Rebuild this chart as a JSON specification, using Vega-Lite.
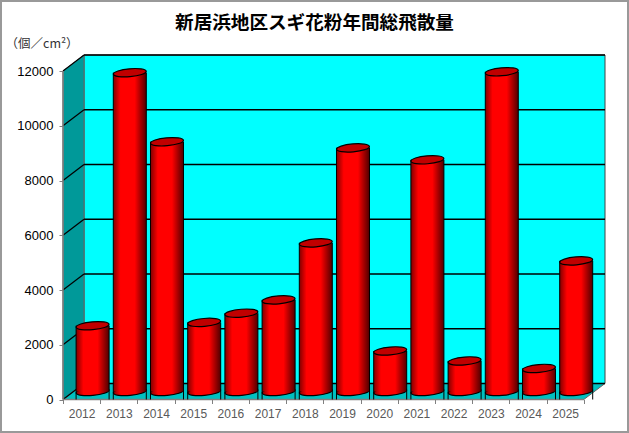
{"$schema":"https://vega.github.io/schema/vega-lite/v6.json","width":627,"height":431,"padding":1,"autosize":{"type":"none"},"background":"white","view":{"stroke":"#999999","strokeWidth":2,"fill":"white"},
"title":{"text":"新居浜地区スギ花粉年間総飛散量","font":"Noto Sans CJK JP","fontSize":18.6,"fontWeight":"bold","color":"#000000","anchor":"middle","offset":-32},
"datasets":{
"back":[{"x0":2012.065,"x1":2026.07,"y0":585,"y1":12585}],
"side":[{"x":2011.5,"lo":0,"hi":12000},{"x":2012.065,"lo":585,"hi":12585}],
"floor":[{"y":0,"xa":2011.5,"xb":2025.5},{"y":585,"xa":2012.065,"xb":2026.07}],
"grid":[{"v":0,"vb":585,"xf":2011.5,"xb":2012.065,"xe":2026.07},{"v":2000,"vb":2585,"xf":2011.5,"xb":2012.065,"xe":2026.07},{"v":4000,"vb":4585,"xf":2011.5,"xb":2012.065,"xe":2026.07},{"v":6000,"vb":6585,"xf":2011.5,"xb":2012.065,"xe":2026.07},{"v":8000,"vb":8585,"xf":2011.5,"xb":2012.065,"xe":2026.07},{"v":10000,"vb":10585,"xf":2011.5,"xb":2012.065,"xe":2026.07},{"v":12000,"vb":12585,"xf":2011.5,"xb":2012.065,"xe":2026.07}],
"pollen":[{"year":2012,"value":2402},{"year":2013,"value":11645},{"year":2014,"value":9123},{"year":2015,"value":2523},{"year":2016,"value":2860},{"year":2017,"value":3346},{"year":2018,"value":5430},{"year":2019,"value":8900},{"year":2020,"value":1480},{"year":2021,"value":8464},{"year":2022,"value":1115},{"year":2023,"value":11680},{"year":2024,"value":841},{"year":2025,"value":4772}]
},
"layer":[
{"data":{"name":"back"},"mark":{"type":"rect","fill":"#00FFFF","stroke":"#444444","strokeWidth":1},"encoding":{
"x":{"field":"x0","type":"quantitative","scale":{"domain":[2011.5,2026.07],"range":[62,604],"nice":false,"zero":false,"padding":0},
"axis":{"orient":"bottom","offset":-32.5,"values":[2011.5,2012.5,2013.5,2014.5,2015.5,2016.5,2017.5,2018.5,2019.5,2020.5,2021.5,2022.5,2023.5,2024.5,2025.5],"labelExpr":"datum.value<2025?format(datum.value+0.5,'d'):''","labelOffset":18.6,"labelOverlap":false,"labelFlush":false,"labelFont":"Liberation Sans","labelFontSize":12,"labelColor":"#595959","labelAngle":0,"labelPadding":5,"tickColor":"#808080","tickSize":4,"grid":false,"domain":false,"title":null}},
"x2":{"field":"x1"},
"y":{"field":"y0","type":"quantitative","scale":{"domain":[0,12585],"range":[398.5,54],"nice":false,"zero":true,"padding":0},
"axis":{"orient":"left","offset":-62,"values":[0,2000,4000,6000,8000,10000,12000],"format":"d","labelFont":"Liberation Sans","labelFontSize":13,"labelColor":"#000000","labelPadding":6,"tickColor":"#808080","tickSize":4,"grid":false,"domain":false,"title":"（個／cm²）","titleFont":"Noto Sans CJK JP","titleFontSize":12.5,"titleFontWeight":"normal","titleColor":"#333333","titleAngle":0,"titleAlign":"left","titleBaseline":"middle","titleX":-58,"titleY":42}},
"y2":{"field":"y1"}}},
{"data":{"name":"side"},"mark":{"type":"area","fill":"#009999","stroke":"#666666","strokeWidth":1},"encoding":{"x":{"field":"x","type":"quantitative"},"y":{"field":"lo","type":"quantitative"},"y2":{"field":"hi"}}},
{"data":{"name":"floor"},"mark":{"type":"area","orient":"horizontal","fill":"#00C0C0","stroke":"#666666","strokeWidth":1},"encoding":{"y":{"field":"y","type":"quantitative"},"x":{"field":"xa","type":"quantitative"},"x2":{"field":"xb"}}},
{"data":{"name":"grid"},"mark":{"type":"rule","color":"#000000","strokeWidth":1.5},"encoding":{"x":{"field":"xb","type":"quantitative"},"x2":{"field":"xe"},"y":{"field":"vb","type":"quantitative"}}},
{"data":{"name":"grid"},"mark":{"type":"rule","color":"#000000","strokeWidth":1.2},"encoding":{"x":{"field":"xf","type":"quantitative"},"x2":{"field":"xb"},"y":{"field":"v","type":"quantitative"},"y2":{"field":"vb"}}},
{"data":{"name":"floor"},"transform":[{"filter":"datum.y==0"}],"mark":{"type":"rule","color":"#808080","strokeWidth":1.5},"encoding":{"x":{"field":"xa","type":"quantitative"},"x2":{"field":"xb"},"y":{"field":"y","type":"quantitative"}}},
{"data":{"name":"side"},"transform":[{"filter":"datum.lo==0"}],"mark":{"type":"rule","color":"#808080","strokeWidth":1.5},"encoding":{"x":{"field":"x","type":"quantitative"},"y":{"field":"lo","type":"quantitative"},"y2":{"field":"hi"}}},
{"data":{"name":"pollen"},"mark":{"type":"point","filled":true,"shape":"M-1,0A1,.24 0 1,1 1,0A1,.24 0 1,1 -1,0Z","size":1089,"angle":-5,"opacity":1,"xOffset":11,"yOffset":-8,"stroke":"#000000","strokeWidth":1.2,"fill":{"x1":0,"x2":1,"y1":0,"y2":0,"gradient":"linear","stops":[{"offset":0,"color":"#800000"},{"offset":0.22,"color":"#FF0000"},{"offset":0.65,"color":"#FF0000"},{"offset":1,"color":"#500000"}]}},"encoding":{"x":{"field":"year","type":"quantitative"},"y":{"datum":0,"type":"quantitative"}}},
{"data":{"name":"pollen"},"mark":{"type":"bar","width":33,"xOffset":11,"yOffset":-8,"fill":{"x1":0,"x2":1,"y1":0,"y2":0,"gradient":"linear","stops":[{"offset":0,"color":"#800000"},{"offset":0.22,"color":"#FF0000"},{"offset":0.65,"color":"#FF0000"},{"offset":1,"color":"#500000"}]}},"encoding":{"x":{"field":"year","type":"quantitative"},"y":{"field":"value","type":"quantitative"}}},
{"data":{"name":"pollen"},"mark":{"type":"rule","color":"#000000","strokeWidth":1,"xOffset":-5.5,"yOffset":-8},"encoding":{"x":{"field":"year","type":"quantitative"},"y":{"field":"value","type":"quantitative"},"y2":{"datum":0}}},
{"data":{"name":"pollen"},"mark":{"type":"rule","color":"#000000","strokeWidth":1,"xOffset":27.5,"yOffset":-8},"encoding":{"x":{"field":"year","type":"quantitative"},"y":{"field":"value","type":"quantitative"},"y2":{"datum":0}}},
{"data":{"name":"pollen"},"mark":{"type":"point","filled":true,"shape":"M-1,0A1,.24 0 1,1 1,0A1,.24 0 1,1 -1,0Z","size":1089,"angle":-5,"opacity":1,"xOffset":11,"yOffset":-8,"fill":"#C00000","stroke":"#000000","strokeWidth":1.2},"encoding":{"x":{"field":"year","type":"quantitative"},"y":{"field":"value","type":"quantitative"}}}
]}
